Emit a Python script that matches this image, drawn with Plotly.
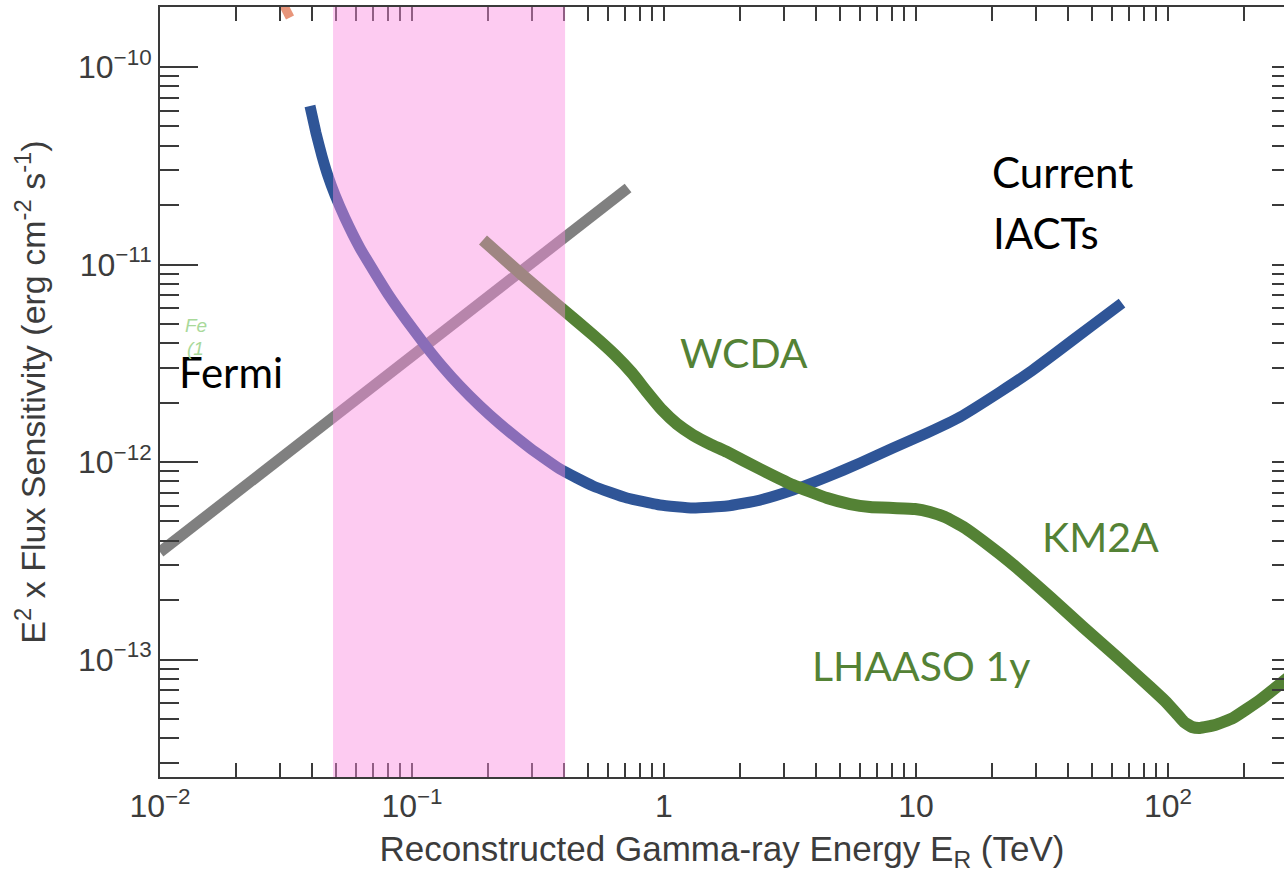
import plotly.graph_objects as go

# Fermi-LAT sensitivity (straight power-law segment)
fermi_e = [0.01, 0.72]
fermi_f = [3.50e-13, 2.44e-11]

# Current IACTs sensitivity curve
iact_e = [0.03937, 0.04159, 0.04393, 0.04642, 0.04948, 0.05421, 0.06217, 0.07131,
          0.08180, 0.09554, 0.1126, 0.1315, 0.1550, 0.1861, 0.2235, 0.2939, 0.3866,
          0.5228, 0.7130, 0.9641, 1.303, 1.778, 2.404, 3.250, 4.435, 5.995, 8.103,
          11.06, 14.95, 21.54, 28.34, 36.27, 49.03, 65.69]
iact_f = [6.346e-11, 4.633e-11, 3.542e-11, 2.806e-11, 2.248e-11, 1.719e-11, 1.212e-11,
          9.057e-12, 6.845e-12, 5.174e-12, 3.913e-12, 3.062e-12, 2.425e-12, 1.921e-12,
          1.557e-12, 1.177e-12, 9.216e-13, 7.558e-13, 6.573e-13, 6.057e-13, 5.849e-13,
          5.987e-13, 6.418e-13, 7.213e-13, 8.394e-13, 9.884e-13, 1.177e-12, 1.402e-12,
          1.690e-12, 2.262e-12, 2.855e-12, 3.606e-12, 4.824e-12, 6.383e-12]

# LHAASO 1-year sensitivity (WCDA + KM2A)
lhaaso_e = [0.1913, 0.2683, 0.3866, 0.5228, 0.6390, 0.7464, 0.8561, 0.9819, 1.126,
            1.303, 1.522, 1.778, 2.404, 3.250, 4.435, 5.471, 6.569, 8.103, 9.909,
            11.36, 13.03, 15.65, 18.45, 21.54, 25.17, 34.02, 45.99, 62.75, 84.85,
            97.30, 107.6, 115.7, 124.5, 133.9, 153.7, 181.1, 231.8, 288.6, 334.1]
lhaaso_f = [1.331e-11, 9.057e-12, 6.091e-12, 4.395e-12, 3.481e-12, 2.822e-12, 2.262e-12,
            1.834e-12, 1.557e-12, 1.370e-12, 1.233e-12, 1.124e-12, 9.216e-13, 7.646e-13,
            6.573e-13, 6.128e-13, 5.918e-13, 5.849e-13, 5.782e-13, 5.583e-13, 5.266e-13,
            4.632e-13, 3.981e-13, 3.421e-13, 2.906e-13, 2.072e-13, 1.461e-13, 1.030e-13,
            7.259e-14, 6.165e-14, 5.359e-14, 4.826e-14, 4.552e-14, 4.499e-14, 4.659e-14,
            5.056e-14, 6.237e-14, 7.783e-14, 9.057e-14]

# fragment of another curve entering from the top
salmon_e = [0.0270, 0.0328]
salmon_f = [2.9e-10, 1.78e-10]

# highlighted energy band (TeV)
band_e = [0.0486, 0.405]

x_tickvals = [0.01, 0.1, 1, 10, 100]
x_ticktext = ["10<sup>\u22122</sup>", "10<sup>\u22121</sup>", "1", "10", "10<sup>2</sup>"]
y_tickvals = [1e-13, 1e-12, 1e-11, 1e-10]
y_ticktext = ["10<sup>\u221213</sup>", "10<sup>\u221212</sup>",
              "10<sup>\u221211</sup>", "10<sup>\u221210</sup>"]

AXIS = "#3a3a3a"
GREEN = "#548235"
BLUE = "#2F5597"
GRAY = "#808080"
SANS = "Liberation Sans, Arial, sans-serif"
TICKFONT = dict(family=SANS, size=32, color="#3c3c3c")
LABELFONT = "Lato, Calibri, sans-serif"

fig = go.Figure()
fig.add_trace(go.Scatter(x=salmon_e, y=salmon_f, mode="lines", yaxis="y2",
                         line=dict(color="#E8957A", width=9), hoverinfo="skip"))
fig.add_trace(go.Scatter(x=fermi_e, y=fermi_f, mode="lines",
                         line=dict(color=GRAY, width=11), name="Fermi"))
fig.add_trace(go.Scatter(x=iact_e, y=iact_f, mode="lines",
                         line=dict(color=BLUE, width=11, shape="spline", smoothing=0.4),
                         name="Current IACTs"))
fig.add_trace(go.Scatter(x=lhaaso_e, y=lhaaso_f, mode="lines",
                         line=dict(color=GREEN, width=12, shape="spline", smoothing=0.4),
                         name="LHAASO 1y"))

yrange = [-13.595, -9.696]

fig.update_layout(
    width=1284, height=885,
    margin=dict(l=160, r=0, t=7, b=108),
    paper_bgcolor="white", plot_bgcolor="white",
    showlegend=False,
    xaxis=dict(
        type="log", range=[-2, 2.4603],
        tickmode="array", tickvals=x_tickvals, ticktext=x_ticktext,
        ticks="inside", ticklen=14, tickwidth=2, tickcolor=AXIS,
        minor=dict(ticks="inside", ticklen=8, tickwidth=1.5, tickcolor=AXIS,
                   dtick="D1", showgrid=False),
        showline=True, linecolor=AXIS, linewidth=2, mirror="allticks",
        showgrid=False, zeroline=False, tickfont=TICKFONT,
        title=dict(text="Reconstructed Gamma-ray Energy E<sub>R</sub> (TeV)",
                   font=dict(family=SANS, size=35, color="#3c3c3c"),
                   standoff=13),
    ),
    yaxis=dict(
        type="log", range=yrange,
        tickmode="array", tickvals=y_tickvals, ticktext=y_ticktext,
        ticks="inside", ticklen=38, tickwidth=2, tickcolor=AXIS,
        minor=dict(ticks="inside", ticklen=19, tickwidth=2, tickcolor=AXIS,
                   dtick="D1", showgrid=False),
        showline=True, linecolor=AXIS, linewidth=2, mirror=False,
        showgrid=False, zeroline=False, tickfont=TICKFONT,
        title=dict(text="E<sup>2</sup> x Flux Sensitivity (erg cm<sup>-2</sup> s<sup>-1</sup>)",
                   font=dict(family=SANS, size=34, color="#3c3c3c"),
                   standoff=22),
    ),
    yaxis2=dict(
        type="log", range=yrange, overlaying="y", side="right", anchor="x",
        tickmode="array", tickvals=y_tickvals, showticklabels=False,
        ticks="inside", ticklen=12, tickwidth=2, tickcolor=AXIS,
        minor=dict(ticks="inside", ticklen=12, tickwidth=2, tickcolor=AXIS,
                   dtick="D1", showgrid=False),
        showline=False, showgrid=False, zeroline=False,
    ),
)

# energy band highlight drawn over the curves
fig.add_shape(type="rect", xref="x", yref="paper",
              x0=band_e[0], x1=band_e[1], y0=0, y1=1,
              fillcolor="rgba(250,140,225,0.45)", line=dict(width=0), layer="above")

labels = [
    ("Current", 0.7384, 0.7851, "black", 42),
    ("IACTs", 0.7393, 0.7065, "black", 42),
    ("Fermi", 0.0151, 0.5260, "black", 42),
    ("WCDA", 0.4609, 0.5519, GREEN, 41),
    ("KM2A", 0.7829, 0.3123, GREEN, 41),
    ("LHAASO 1y", 0.5783, 0.1442, GREEN, 41),
]
for text, px, py, col, size in labels:
    fig.add_annotation(text=text, xref="paper", yref="paper", x=px, y=py,
                       xanchor="left", yanchor="middle", showarrow=False,
                       font=dict(family=LABELFONT, size=size, color=col))

for text, px, py in [("Fe", 0.0205, 0.5870), ("(1", 0.0222, 0.5560)]:
    fig.add_annotation(text="<i>" + text + "</i>", xref="paper", yref="paper", x=px, y=py,
                       xanchor="left", yanchor="middle", showarrow=False,
                       font=dict(family=SANS, size=19, color="#A9D99A"))

fig.write_html("out.html")
